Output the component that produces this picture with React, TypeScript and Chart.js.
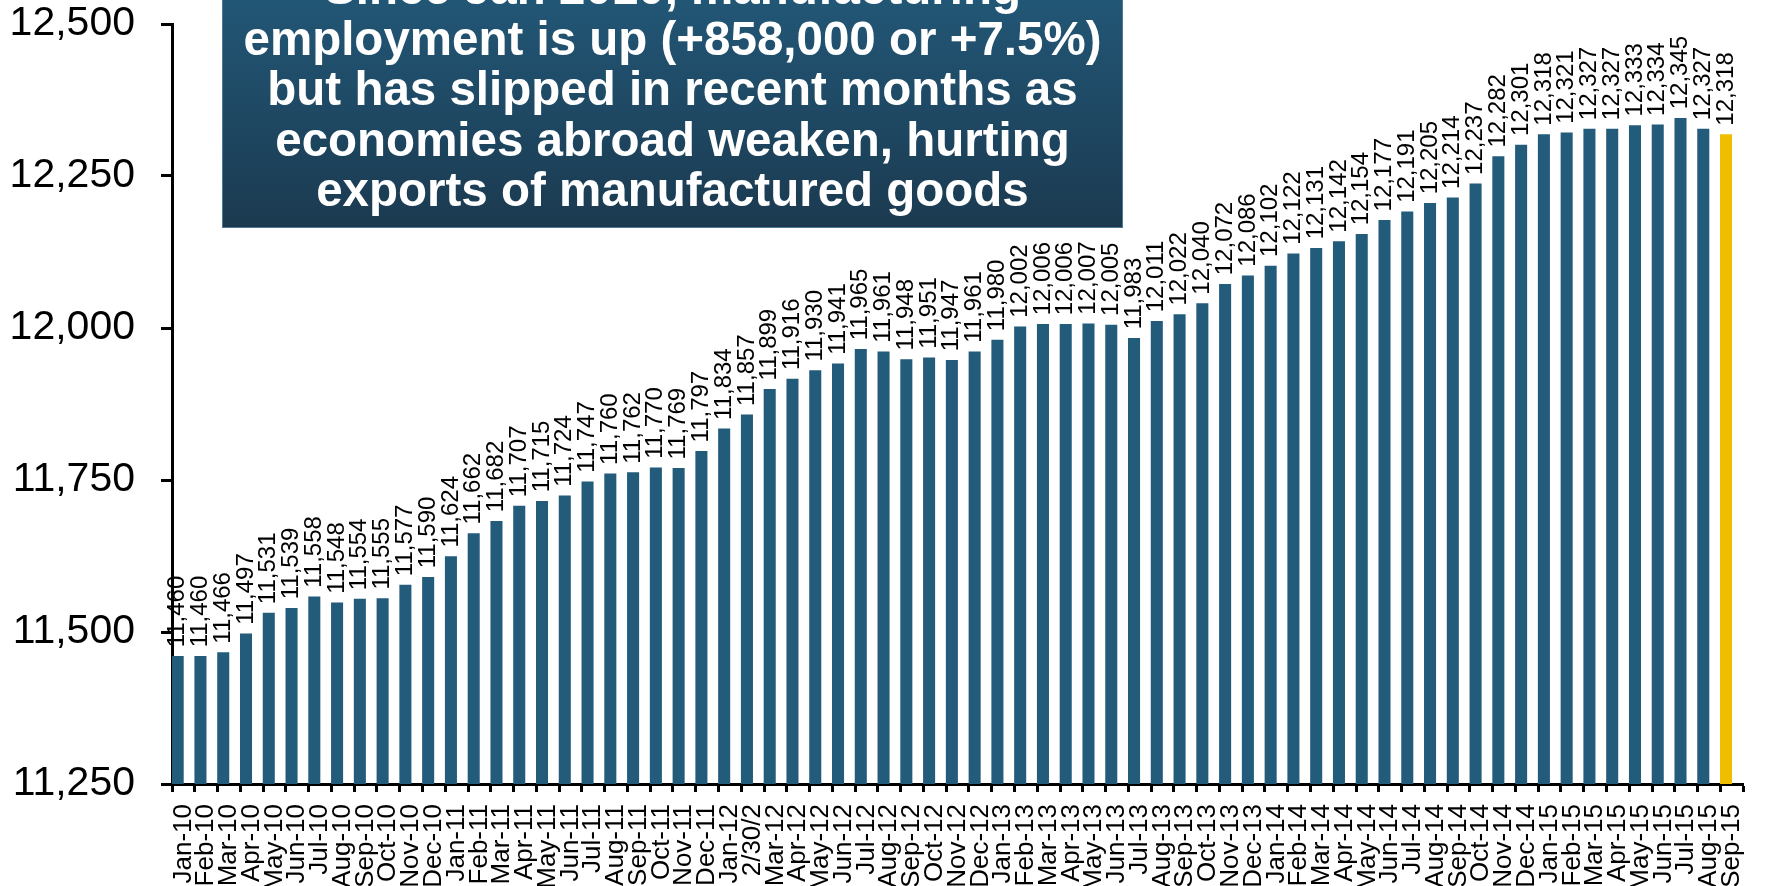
import React, { useEffect, useRef } from 'react';
import { Chart, registerables } from 'chart.js';

Chart.register(...registerables);

const FONT = "'Liberation Sans', Arial, Helvetica, sans-serif";

const categories = [
  'Jan-10', 'Feb-10', 'Mar-10', 'Apr-10', 'May-10', 'Jun-10', 'Jul-10', 'Aug-10', 'Sep-10', 'Oct-10', 'Nov-10', 'Dec-10',
  'Jan-11', 'Feb-11', 'Mar-11', 'Apr-11', 'May-11', 'Jun-11', 'Jul-11', 'Aug-11', 'Sep-11', 'Oct-11', 'Nov-11', 'Dec-11',
  'Jan-12', '2/30/2', 'Mar-12', 'Apr-12', 'May-12', 'Jun-12', 'Jul-12', 'Aug-12', 'Sep-12', 'Oct-12', 'Nov-12', 'Dec-12',
  'Jan-13', 'Feb-13', 'Mar-13', 'Apr-13', 'May-13', 'Jun-13', 'Jul-13', 'Aug-13', 'Sep-13', 'Oct-13', 'Nov-13', 'Dec-13',
  'Jan-14', 'Feb-14', 'Mar-14', 'Apr-14', 'May-14', 'Jun-14', 'Jul-14', 'Aug-14', 'Sep-14', 'Oct-14', 'Nov-14', 'Dec-14',
  'Jan-15', 'Feb-15', 'Mar-15', 'Apr-15', 'May-15', 'Jun-15', 'Jul-15', 'Aug-15', 'Sep-15',
];

const employment = [
  11460, 11460, 11466, 11497, 11531, 11539, 11558, 11548, 11554, 11555, 11577, 11590,
  11624, 11662, 11682, 11707, 11715, 11724, 11747, 11760, 11762, 11770, 11769, 11797,
  11834, 11857, 11899, 11916, 11930, 11941, 11965, 11961, 11948, 11951, 11947, 11961,
  11980, 12002, 12006, 12006, 12007, 12005, 11983, 12011, 12022, 12040, 12072, 12086,
  12102, 12122, 12131, 12142, 12154, 12177, 12191, 12205, 12214, 12237, 12282, 12301,
  12318, 12321, 12327, 12327, 12333, 12334, 12345, 12327, 12318,
];

const yTicks = [11250, 11500, 11750, 12000, 12250, 12500];

const highlightMonth = 'Sep-15';

const titleLines = [
  'Since Jan 2010, manufacturing',
  'employment is up (+858,000 or +7.5%)',
  'but has slipped in recent months as',
  'economies abroad weaken, hurting',
  'exports of manufactured goods',
];

const BAR_COLOR = '#235b7a';
const HIGHLIGHT_COLOR = '#efbe00';

const valueLabels = {
  id: 'valueLabels',
  afterDatasetsDraw(chart: any) {
    const meta = chart.getDatasetMeta(0);
    const ctx = chart.ctx;
    ctx.save();
    ctx.font = `24px ${FONT}`;
    ctx.fillStyle = '#000';
    ctx.textAlign = 'left';
    ctx.textBaseline = 'middle';
    meta.data.forEach((bar: any, i: number) => {
      const v = employment[i];
      ctx.save();
      ctx.translate(bar.x, bar.y - 9);
      ctx.rotate(-Math.PI / 2);
      ctx.fillText(v.toLocaleString('en-US'), 0, 0);
      ctx.restore();
    });
    ctx.restore();
  },
};

export default function App() {
  const ref = useRef<HTMLCanvasElement>(null);

  useEffect(() => {
    document.body.style.margin = '0';
    document.body.style.overflow = 'hidden';
    const colors = categories.map((c) => (c === highlightMonth ? HIGHLIGHT_COLOR : BAR_COLOR));
    const chart = new Chart(ref.current as HTMLCanvasElement, {
      type: 'bar',
      data: {
        labels: categories,
        datasets: [
          {
            label: 'Manufacturing employment (thousands)',
            data: employment,
            backgroundColor: colors,
            barPercentage: 1,
            categoryPercentage: 1,
          },
          {
            label: '',
            data: [],
            backgroundColor: 'rgba(0,0,0,0)',
            barPercentage: 1,
            categoryPercentage: 1,
          },
        ],
      },
      options: {
        responsive: false,
        animation: false,
        layout: { padding: { top: 24, right: 8, left: 0, bottom: 0 } },
        plugins: {
          legend: { display: false },
          tooltip: { enabled: false },
          title: { display: false },
        },
        scales: {
          x: {
            grid: {
              display: true,
              drawOnChartArea: false,
              drawTicks: true,
              tickLength: 8,
              tickWidth: 3,
              tickColor: '#000',
              offset: true,
            },
            border: { display: true, color: '#000', width: 3 },
            ticks: {
              autoSkip: false,
              minRotation: 90,
              maxRotation: 90,
              padding: 12,
              color: '#000',
              font: { size: 26, family: FONT },
            },
            afterFit: (s: any) => {
              s.height = 102;
            },
          },
          y: {
            min: 11250,
            max: 12500,
            afterBuildTicks: (s: any) => {
              s.ticks = yTicks.map((v) => ({ value: v }));
            },
            grid: {
              display: true,
              drawOnChartArea: false,
              drawTicks: true,
              tickLength: 11,
              tickWidth: 3,
              tickColor: '#000',
            },
            border: { display: true, color: '#000', width: 3 },
            ticks: {
              padding: 26,
              color: '#000',
              font: { size: 41, family: FONT },
              callback: (v: any) => Number(v).toLocaleString('en-US'),
            },
            afterFit: (s: any) => {
              s.width = 172;
              s.paddingTop = 0;
              s.paddingBottom = 0;
            },
          },
        },
      },
      plugins: [valueLabels],
    });
    return () => chart.destroy();
  }, []);

  return (
    <div style={{ position: 'relative', width: 1775, height: 886, overflow: 'hidden', background: '#fff' }}>
      <canvas ref={ref} width={1775} height={886} style={{ display: 'block', width: 1775, height: 886 }} />
      <div
        style={{
          position: 'absolute',
          left: 222,
          top: -38,
          width: 901,
          height: 266,
          boxSizing: 'border-box',
          border: '1px solid #4d7896',
          background: 'linear-gradient(to bottom, #235b7c 0%, #1b3a50 100%)',
          color: '#fff',
          fontFamily: FONT,
          fontWeight: 'bold',
          fontSize: 47.5,
          lineHeight: '50.5px',
          textAlign: 'center',
          whiteSpace: 'nowrap',
        }}
      >
        {titleLines.map((line) => (
          <div key={line}>{line}</div>
        ))}
      </div>
    </div>
  );
}
